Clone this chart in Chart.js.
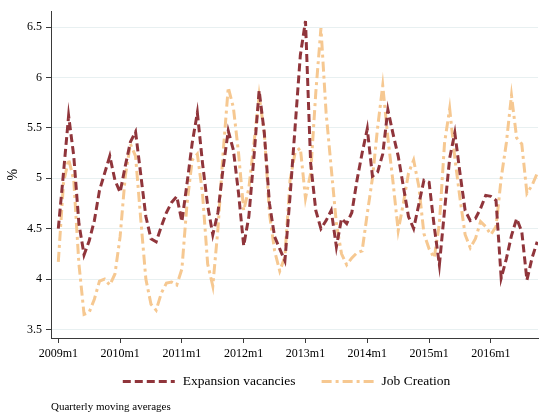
<!DOCTYPE html>
<html>
<head>
<meta charset="utf-8">
<script src="https://cdn.jsdelivr.net/npm/chart.js@4.4.1/dist/chart.umd.min.js"></script>
<style>
  html, body { margin: 0; padding: 0; background: #ffffff; }
  #wrap { width: 539px; height: 414px; }
</style>
</head>
<body>
<div id="wrap"><canvas id="chart" width="539" height="414"></canvas></div>
<script>
// Monthly series, first observation 2009m1
const firstYear = 2009;

const xTickLabels = ['2009m1', '2010m1', '2011m1', '2012m1', '2013m1', '2014m1', '2015m1', '2016m1'];
const yTickValues = [3.5, 4, 4.5, 5, 5.5, 6, 6.5];

const expansionVacancies = [
  4.50, 5.05, 5.62, 5.22, 4.55, 4.24, 4.38, 4.58, 4.88, 5.05, 5.22, 4.98,
  4.86, 5.12, 5.36, 5.46, 5.04, 4.62, 4.40, 4.37, 4.52, 4.66, 4.76, 4.82,
  4.57, 4.95, 5.35, 5.65, 5.15, 4.73, 4.44, 4.66, 5.10, 5.47, 5.28, 4.85,
  4.33, 4.62, 5.22, 5.87, 5.45, 4.75, 4.42, 4.30, 4.18, 4.82, 5.52, 6.22,
  6.56, 5.15, 4.68, 4.50, 4.58, 4.68, 4.32, 4.60, 4.55, 4.66, 4.98, 5.25,
  5.49, 5.02, 5.06, 5.24, 5.68, 5.44, 5.22, 4.92, 4.62, 4.50, 4.74, 4.98,
  4.96, 4.52, 4.14, 4.68, 5.20, 5.45, 5.05, 4.68, 4.58, 4.60, 4.70, 4.83,
  4.82, 4.78, 4.01, 4.20, 4.43, 4.60, 4.47, 3.99, 4.21, 4.37
];

const jobCreation = [
  4.17, 4.95, 5.19, 4.98, 4.15, 3.65, 3.67, 3.80, 3.98, 4.00, 3.94, 4.05,
  4.42, 5.02, 5.34, 5.22, 4.60, 4.00, 3.75, 3.69, 3.86, 3.96, 3.97, 3.94,
  4.10, 4.75, 5.18, 5.24, 4.85, 4.15, 3.93, 4.50, 5.25, 5.90, 5.70, 5.25,
  4.68, 4.90, 5.35, 5.82, 5.45, 4.65, 4.28, 4.08, 4.22, 4.98, 5.26, 5.30,
  4.80, 5.05, 5.85, 6.49, 5.65, 5.10, 4.55, 4.25, 4.14, 4.21, 4.26, 4.28,
  4.65, 5.00, 5.50, 5.92, 5.40, 4.96, 4.48, 4.75, 5.05, 5.18, 4.92, 4.45,
  4.30, 4.21, 4.55, 5.35, 5.69, 5.20, 4.80, 4.44, 4.31, 4.40, 4.57, 4.52,
  4.44, 4.52, 5.00, 5.35, 5.82, 5.40, 5.34, 4.85, 4.93, 5.05
];

const seriesNames = ['Expansion vacancies', 'Job Creation'];
const yAxisTitle = '%';
const noteText = 'Quarterly moving averages';

const serif = 'Liberation Serif, Times New Roman, serif';
const axisColor = '#3a3a3a';

// month index -> {x, y}
const toPoints = values => values.map((v, i) => ({ x: i, y: v }));

// one-row legend under the axis: dashed line sample followed by the series name
const legendRow = {
  id: 'legendRow',
  afterDraw(chart) {
    const ctx = chart.ctx;
    const area = chart.chartArea;
    const sampleLen = 52, textGap = 8, itemGap = 26;
    ctx.save();
    ctx.font = '13.5px ' + serif;
    const items = chart.data.datasets.map(ds => ({ ds, w: ctx.measureText(ds.label).width }));
    const total = items.reduce((a, it) => a + sampleLen + textGap + it.w, 0) + itemGap * (items.length - 1);
    let x = (area.left + area.right) / 2 - 8 - total / 2;
    const y = chart.scales.x.bottom + 17.5;
    items.forEach(({ ds, w }) => {
      ctx.beginPath();
      ctx.setLineDash(ds.borderDash || []);
      ctx.lineCap = 'butt';
      ctx.lineWidth = ds.borderWidth;
      ctx.strokeStyle = ds.borderColor;
      ctx.moveTo(x, y);
      ctx.lineTo(x + sampleLen, y);
      ctx.stroke();
      ctx.setLineDash([]);
      ctx.fillStyle = '#000';
      ctx.textBaseline = 'middle';
      ctx.textAlign = 'left';
      ctx.fillText(ds.label, x + sampleLen + textGap, y);
      x += sampleLen + textGap + w + itemGap;
    });
    ctx.restore();
  }
};

new Chart(document.getElementById('chart'), {
  type: 'line',
  data: {
    datasets: [
      {
        label: seriesNames[0],
        data: toPoints(expansionVacancies),
        borderColor: 'rgb(144, 53, 59)',
        backgroundColor: 'rgb(144, 53, 59)',
        borderWidth: 3,
        borderDash: [8, 4],
        borderCapStyle: 'butt',
        pointRadius: 0,
        tension: 0,
        fill: false
      },
      {
        label: seriesNames[1],
        data: toPoints(jobCreation),
        borderColor: 'rgb(246, 200, 145)',
        backgroundColor: 'rgb(246, 200, 145)',
        borderWidth: 3,
        borderDash: [10, 4, 3, 4],
        borderCapStyle: 'butt',
        pointRadius: 0,
        tension: 0,
        fill: false
      }
    ]
  },
  options: {
    responsive: false,
    animation: false,
    events: [],
    layout: { padding: { left: 5, right: 1, top: 8, bottom: 0 } },
    scales: {
      x: {
        type: 'linear',
        min: -1.42,
        max: 93.15,
        afterBuildTicks: s => { s.ticks = xTickLabels.map((t, k) => ({ value: k * 12 })); },
        afterFit: s => { s.height = 26; },
        ticks: {
          autoSkip: false,
          maxRotation: 0,
          padding: 4,
          color: '#000',
          font: { family: serif, size: 12 },
          callback: v => xTickLabels[Math.round(v / 12)]
        },
        grid: { drawOnChartArea: false, tickLength: 5, tickColor: axisColor, tickWidth: 1 },
        border: { color: axisColor, width: 1 }
      },
      y: {
        min: 3.415,
        max: 6.657,
        afterBuildTicks: s => { s.ticks = yTickValues.map(v => ({ value: v })); },
        afterFit: s => { s.width = 46; },
        ticks: {
          padding: 4,
          color: '#000',
          font: { family: serif, size: 12 },
          callback: v => String(v)
        },
        grid: { color: '#e8f0f1', lineWidth: 1, tickLength: 5, tickColor: axisColor },
        border: { color: axisColor, width: 1 },
        title: {
          display: true,
          text: yAxisTitle,
          color: '#000',
          padding: 0,
          font: { family: serif, size: 14 }
        }
      }
    },
    plugins: {
      legend: { display: false },
      title: {
        display: true,
        position: 'bottom',
        align: 'start',
        fullSize: false,
        text: noteText,
        color: '#000',
        padding: { top: 36.8, bottom: 0 },
        font: { family: serif, size: 11, weight: 'normal' }
      },
      tooltip: { enabled: false }
    }
  },
  plugins: [legendRow]
});
</script>
</body>
</html>
